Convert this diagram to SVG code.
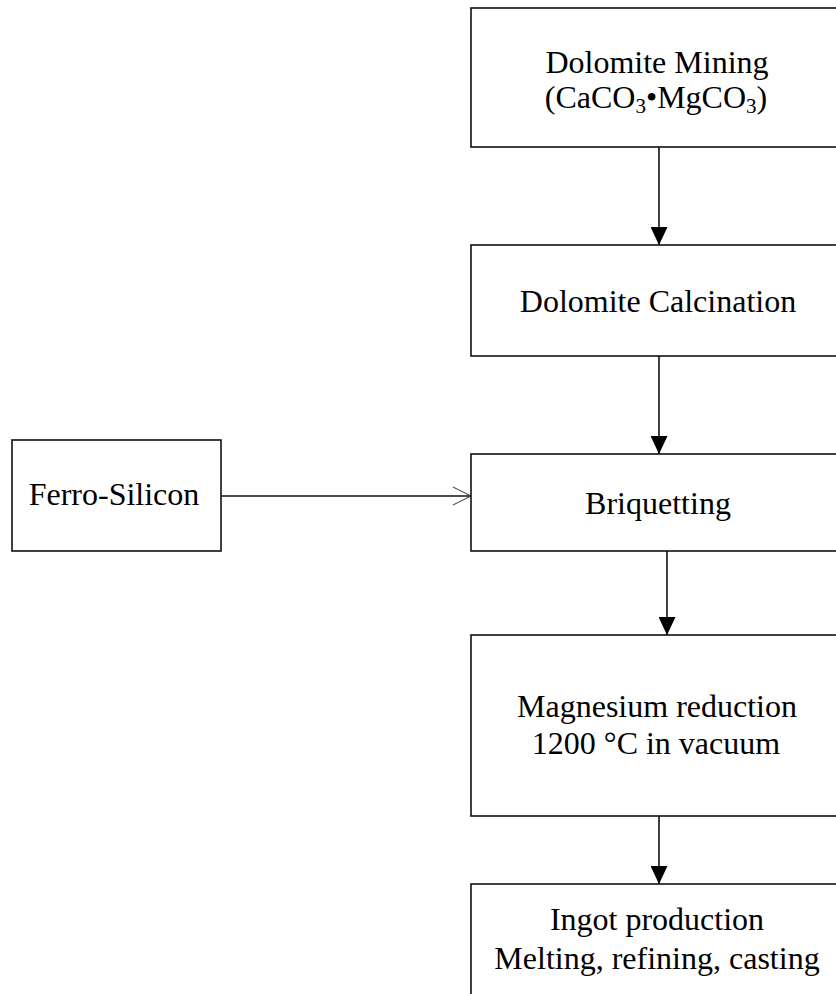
<svg xmlns="http://www.w3.org/2000/svg" width="836" height="994" viewBox="0 0 836 994">
<style>
.box{fill:#fff;stroke:#111;stroke-width:1.6}
.lbl{font-family:"Liberation Serif","Times New Roman",serif;font-size:32px;fill:#000;text-anchor:middle}
.sub{font-size:21px}
.conn{stroke:#111;stroke-width:1.6;fill:none}
</style>
<defs>
<marker id="tri" viewBox="0 0 18 17" refX="18" refY="8.5" markerWidth="18" markerHeight="17" markerUnits="userSpaceOnUse" orient="auto">
<path d="M0,0 L18,8.5 L0,17 z" fill="#000"/>
</marker>
<marker id="vee" viewBox="0 0 18 18" refX="18" refY="9" markerWidth="18" markerHeight="18" markerUnits="userSpaceOnUse" orient="auto" overflow="visible">
<path d="M0,0 L18,9 L0,18" fill="none" stroke="#333" stroke-width="1"/>
</marker>
</defs>
<rect width="836" height="994" fill="#fff"/>
<g id="connectors">
<line class="conn" x1="659" y1="147" x2="659" y2="245" marker-end="url(#tri)"/>
<line class="conn" x1="659" y1="356" x2="659" y2="454" marker-end="url(#tri)"/>
<line class="conn" x1="667" y1="551" x2="667" y2="635" marker-end="url(#tri)"/>
<line class="conn" x1="659" y1="816" x2="659" y2="884" marker-end="url(#tri)"/>
<line class="conn" x1="221" y1="496" x2="471" y2="496" marker-end="url(#vee)"/>
</g>
<g id="mining">
<rect class="box" x="471" y="8" width="372" height="139"/>
<text class="lbl" x="657" y="73">Dolomite Mining</text>
<text class="lbl" x="656" y="108">(CaCO<tspan class="sub" dy="5">3</tspan><tspan dy="-5">•MgCO</tspan><tspan class="sub" dy="5">3</tspan><tspan dy="-5">)</tspan></text>
</g>
<g id="calcination">
<rect class="box" x="471" y="245" width="372" height="111"/>
<text class="lbl" x="658" y="312">Dolomite Calcination</text>
</g>
<g id="ferrosilicon">
<rect class="box" x="12" y="440" width="209" height="111"/>
<text class="lbl" x="114" y="505">Ferro-Silicon</text>
</g>
<g id="briquetting">
<rect class="box" x="471" y="454" width="372" height="97"/>
<text class="lbl" x="658" y="514">Briquetting</text>
</g>
<g id="reduction">
<rect class="box" x="471" y="635" width="372" height="181"/>
<text class="lbl" x="657" y="717">Magnesium reduction</text>
<text class="lbl" x="656" y="754">1200 °C in vacuum</text>
</g>
<g id="ingot">
<rect class="box" x="471" y="884" width="372" height="200"/>
<text class="lbl" x="657" y="930">Ingot production</text>
<text class="lbl" x="657" y="969">Melting, refining, casting</text>
</g>
</svg>
